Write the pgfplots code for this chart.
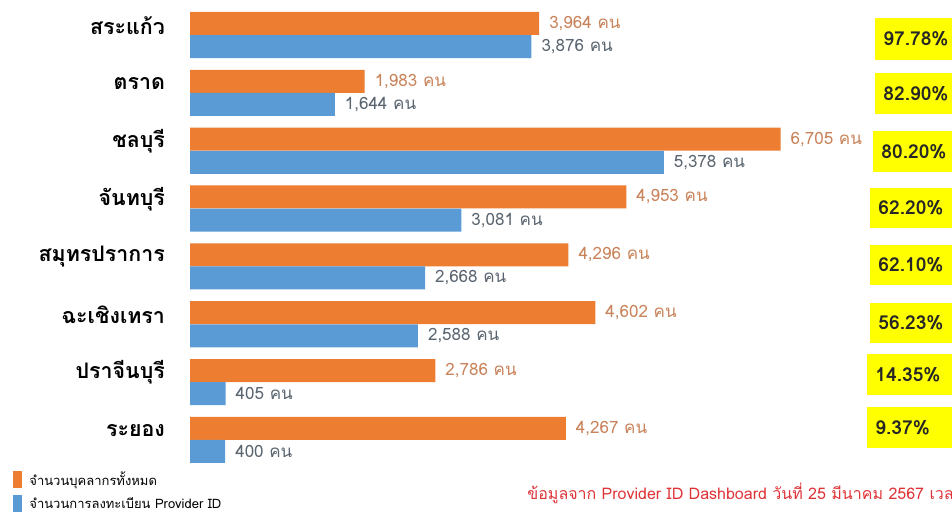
\documentclass[border=0pt]{standalone}
\usepackage{fontspec}
\setmainfont{Loma}[Script=Thai]
\usepackage{pgfplots}
\pgfplotsset{compat=1.18}
\definecolor{cOr}{HTML}{ED7D31}
\definecolor{cBl}{HTML}{5B9BD5}
\definecolor{cOrT}{HTML}{C9835A}
\definecolor{cBlT}{HTML}{5A6570}
\definecolor{cYel}{HTML}{FFFF00}
\definecolor{cRed}{HTML}{DE3438}
\begin{document}
\begin{tikzpicture}
\begin{axis}[
  at={(95pt,0pt)}, anchor=north west,
  scale only axis, width=381pt, height=235pt,
  xbar, bar width=11.5pt, bar shift=0pt,
  xmin=0, xmax=8650, ymin=-0.605, ymax=7.52,
  y dir=reverse,
  axis line style={draw=none},
  major tick length=0pt,
  xtick=\empty,
  ytick={-0.2,0.8,1.8,2.8,3.8,4.8,5.8,6.8},
  yticklabels={สระแก้ว,ตราด,ชลบุรี,จันทบุรี,สมุทรปราการ,ฉะเชิงเทรา,ปราจีนบุรี,ระยอง},
  yticklabel style={font=\bfseries\fontsize{10.7}{13}\selectfont, xshift=-9pt, yshift=-1pt},
  point meta=x,
  nodes near coords={\pgfmathprintnumber[fixed,precision=0,1000 sep={,},assume math mode=true]{\pgfplotspointmeta}~คน},
  nodes near coords style={font=\fontsize{8.5}{10}\selectfont, anchor=west, xshift=1.5pt},
]
\addplot[fill=cOr, draw=none, every node near coord/.append style={text=cOrT}] coordinates {
  (3964,-0.2) (1983,0.8) (6705,1.8) (4953,2.8) (4296,3.8) (4602,4.8) (2786,5.8) (4267,6.8)};
\addplot[fill=cBl, draw=none, every node near coord/.append style={text=cBlT}] coordinates {
  (3876,0.2) (1644,1.2) (5378,2.2) (3081,3.2) (2668,4.2) (2588,5.2) (405,6.2) (400,7.2)};
\end{axis}
\begin{scope}[x=0.5pt, y=-0.5pt]
  \foreach \xa/\ya/\yb/\t in {875/18/60/97.78\%, 875/73/114/82.90\%, 873/131/172/80.20\%,
      870/188/228/62.20\%, 870/245/285/62.10\%, 870/303/343/56.23\%,
      867/354/395/14.35\%, 867/407/448/9.37\%}{
    \fill[cYel] (\xa,\ya) rectangle (952,\yb);
    \node[anchor=west, inner sep=0pt, text=black!85, font=\bfseries\fontsize{9.6}{12}\selectfont]
      at ({\xa+8},{(\ya+\yb)/2}) {\t};
  }
  \fill[cOr] (13,471) rectangle (22,488);
  \node[anchor=west, inner sep=0pt, font=\fontsize{6.5}{8}\selectfont] at (29,480) {จำนวนบุคลากรทั้งหมด};
  \fill[cBl] (13,495) rectangle (22,512);
  \node[anchor=west, inner sep=0pt, font=\fontsize{6.5}{8}\selectfont] at (29,503) {จำนวนการลงทะเบียน Provider ID};
  \node[anchor=west, inner sep=0pt, text=cRed, font=\fontsize{8}{10}\selectfont] at (527,493)
    {ข้อมูลจาก Provider ID Dashboard วันที่ 25 มีนาคม 2567 เวล};
  \pgfresetboundingbox
  \path[use as bounding box] (0,0) rectangle (952,512);
\end{scope}
\end{tikzpicture}
\end{document}
